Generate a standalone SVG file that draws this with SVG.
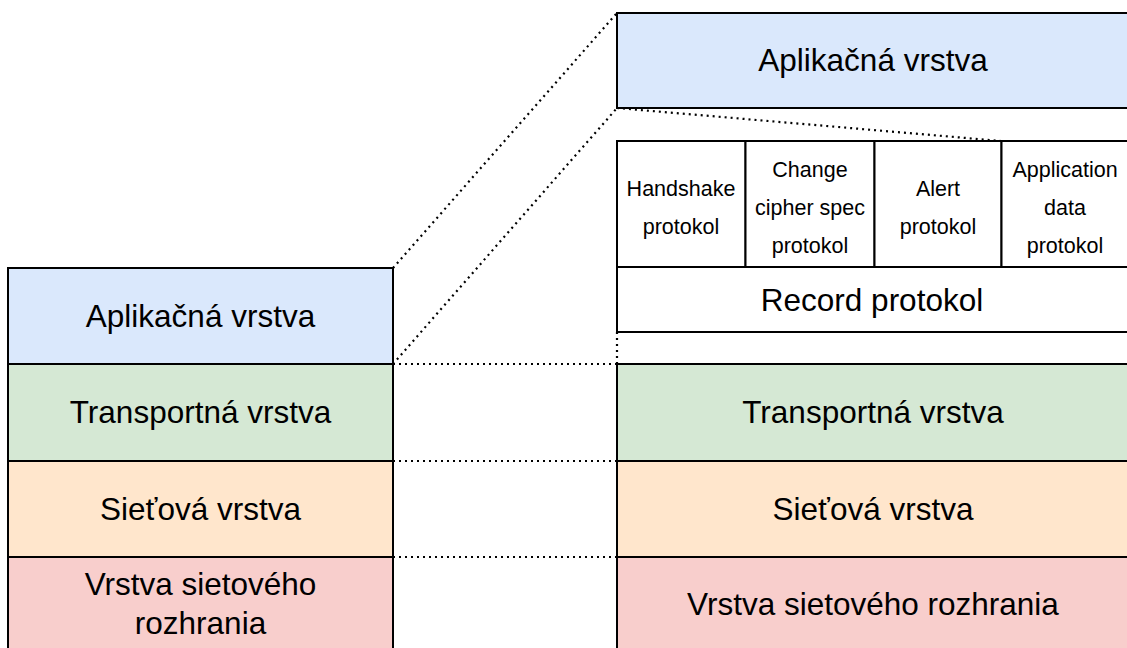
<svg xmlns="http://www.w3.org/2000/svg" width="1127" height="648" viewBox="0 0 1127 648">
<style>
.box{stroke:#000;stroke-width:2}
.blue{fill:#dae8fc}.green{fill:#d5e8d4}.orange{fill:#ffe6cc}.red{fill:#f8cecc}.white{fill:#fff}
text{font-family:"Liberation Sans",Arial,sans-serif;fill:#000;text-anchor:middle}
.big{font-size:31.5px}
.small{font-size:21.5px}
.dot{fill:none;stroke:#000;stroke-width:2.2;stroke-dasharray:2 4}
</style>
<rect width="1127" height="648" fill="#fff"/>
<g id="connectors">
<line class="dot" x1="393" y1="268" x2="617" y2="13"/>
<line class="dot" x1="393" y1="364" x2="617" y2="108"/>
<line class="dot" x1="617" y1="108" x2="1001" y2="141"/>
<line class="dot" x1="393" y1="364" x2="617" y2="364"/>
<line class="dot" x1="393" y1="461" x2="617" y2="461"/>
<line class="dot" x1="393" y1="557" x2="617" y2="557"/>
<line class="dot" x1="617" y1="332" x2="617" y2="364"/>
</g>
<g id="left-app"><rect class="box blue" x="8" y="268" width="385" height="96"/><text class="big" x="200.5" y="327">Aplikačná vrstva</text></g>
<g id="left-transport"><rect class="box green" x="8" y="364" width="385" height="97"/><text class="big" x="200.5" y="423">Transportná vrstva</text></g>
<g id="left-network"><rect class="box orange" x="8" y="461" width="385" height="96"/><text class="big" x="200.5" y="520">Sieťová vrstva</text></g>
<g id="left-link"><rect class="box red" x="8" y="557" width="385" height="100"/><text class="big" x="200.5" y="595">Vrstva sietového</text><text class="big" x="200.5" y="634">rozhrania</text></g>
<g id="right-app"><rect class="box blue" x="617" y="13" width="513" height="95"/><text class="big" x="873" y="71">Aplikačná vrstva</text></g>
<g id="handshake"><rect class="box white" x="617" y="141" width="128.5" height="126"/><text class="small" x="681" y="196">Handshake</text><text class="small" x="681" y="234">protokol</text></g>
<g id="ccs"><rect class="box white" x="745.5" y="141" width="129" height="126"/><text class="small" x="810" y="177">Change</text><text class="small" x="810" y="215">cipher spec</text><text class="small" x="810" y="253">protokol</text></g>
<g id="alert"><rect class="box white" x="874.5" y="141" width="127" height="126"/><text class="small" x="938" y="196">Alert</text><text class="small" x="938" y="234">protokol</text></g>
<g id="appdata"><rect class="box white" x="1001.5" y="141" width="128.5" height="126"/><text class="small" x="1065" y="177">Application</text><text class="small" x="1065" y="215">data</text><text class="small" x="1065" y="253">protokol</text></g>
<g id="record"><rect class="box white" x="617" y="267" width="513" height="65"/><text class="big" x="872" y="311">Record protokol</text></g>
<g id="right-transport"><rect class="box green" x="617" y="364" width="513" height="97"/><text class="big" x="873" y="423">Transportná vrstva</text></g>
<g id="right-network"><rect class="box orange" x="617" y="461" width="513" height="96"/><text class="big" x="873" y="520">Sieťová vrstva</text></g>
<g id="right-link"><rect class="box red" x="617" y="557" width="513" height="100"/><text class="big" x="873" y="615">Vrstva sietového rozhrania</text></g>
</svg>
